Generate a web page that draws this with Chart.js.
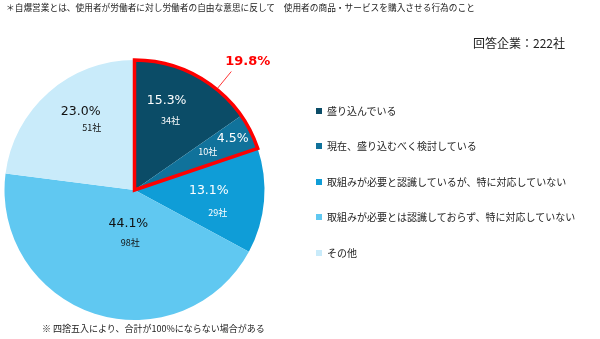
<!DOCTYPE html>
<html lang="ja">
<head>
<meta charset="utf-8">
<title>自爆営業</title>
<script src="https://cdn.jsdelivr.net/npm/chart.js@4"></script>
<style>
  html, body { margin: 0; padding: 0; background: #fff; }
  body { width: 600px; height: 339px; position: relative; overflow: hidden;
         font-family: "Noto Sans CJK JP", "Noto Sans", sans-serif; color: #222; }
  #wrap { position: absolute; left: 0; top: 0; width: 600px; height: 339px; }
  .note-top { position: absolute; left: 6px; top: 1px; font-size: 8.7px; white-space: nowrap; }
  .total { position: absolute; left: 473px; top: 34px; font-size: 12px; white-space: nowrap; }
  .note-bottom { position: absolute; left: 42px; top: 322px; font-size: 9px; white-space: nowrap; }
  #legend { position: absolute; left: 316px; top: 0; }
  .item { position: absolute; left: 0; white-space: nowrap; font-size: 10px; line-height: 12px; }
  .item span.box { display: inline-block; width: 6px; height: 6px; margin-right: 5px; vertical-align: 1px; }
</style>
</head>
<body>
<div id="wrap"><canvas id="myChart" width="600" height="339"></canvas></div>
<div class="note-top">＊自爆営業とは、使用者が労働者に対し労働者の自由な意思に反して　使用者の商品・サービスを購入させる行為のこと</div>
<div class="total">回答企業：222社</div>
<div class="note-bottom">※ 四捨五入により、合計が100%にならない場合がある</div>
<div id="legend"></div>

<script>
// data
const categories = [
  '盛り込んでいる',
  '現在、盛り込むべく検討している',
  '取組みが必要と認識しているが、特に対応していない',
  '取組みが必要とは認識しておらず、特に対応していない',
  'その他'
];
const companies = [34, 10, 29, 98, 51];
const percentLabels = ['15.3%', '4.5%', '13.1%', '44.1%', '23.0%'];
const highlightLabel = '19.8%';
const highlightCount = 2; // first two slices are outlined

// styles
const colors = ['#0b4c67', '#10729b', '#0f9dd7', '#60c8f1', '#c9ebfa'];
const textColors = ['#fff', '#fff', '#fff', '#111', '#111'];
const labelRadius = [0.70, 0.76, 0.62, 0.33, 0.65];
// small nudges of the two label lines, [dx, dy]
const pctNudge = [[-10, 0], [10, 2], [-6, 3], [7, 2], [2, -6]];
const countNudge = [[-9, 0], [-18, -5], [0, 5], [6, 1], [10, -10]];
const legendTops = [105, 140, 176, 211, 247];

// legend
const legend = document.getElementById('legend');
for (let i = 0; i < categories.length; i++) {
  let div = document.createElement('div');
  div.className = 'item';
  div.style.top = legendTops[i] + 'px';
  div.innerHTML = '<span class="box" style="background:' + colors[i] + '"></span>' + categories[i];
  legend.appendChild(div);
}

// labels inside the slices
const sliceLabels = {
  id: 'sliceLabels',
  afterDatasetsDraw(chart) {
    const ctx = chart.ctx;
    const arcs = chart.getDatasetMeta(0).data;
    ctx.save();
    ctx.textAlign = 'center';
    ctx.textBaseline = 'middle';
    for (let i = 0; i < arcs.length; i++) {
      let a = arcs[i];
      let mid = (a.startAngle + a.endAngle) / 2;
      let r = a.outerRadius * labelRadius[i];
      let x = a.x + Math.cos(mid) * r;
      let y = a.y + Math.sin(mid) * r;
      ctx.fillStyle = textColors[i];
      ctx.font = '12.5px "DejaVu Sans", sans-serif';
      ctx.fillText(percentLabels[i], x + pctNudge[i][0], y - 9 + pctNudge[i][1]);
      ctx.font = '9px "Noto Sans CJK JP", sans-serif';
      ctx.fillText(companies[i] + '社', x + 3 + countNudge[i][0], y + 11 + countNudge[i][1]);
    }
    ctx.restore();
  }
};

// red outline round the first slices, with callout
const highlight = {
  id: 'highlight',
  afterDatasetsDraw(chart) {
    const ctx = chart.ctx;
    const arcs = chart.getDatasetMeta(0).data;
    const first = arcs[0];
    const last = arcs[highlightCount - 1];
    const cx = first.x, cy = first.y, r = first.outerRadius;
    ctx.save();
    ctx.strokeStyle = '#ff0000';
    ctx.lineWidth = 3.5;
    ctx.lineJoin = 'miter';
    ctx.beginPath();
    ctx.moveTo(cx, cy);
    ctx.arc(cx, cy, r, first.startAngle, last.endAngle);
    ctx.closePath();
    ctx.stroke();

    let ang = first.startAngle + (last.endAngle - first.startAngle) * 0.55;
    ctx.lineWidth = 0.8;
    ctx.beginPath();
    ctx.moveTo(cx + Math.cos(ang) * (r + 1), cy + Math.sin(ang) * (r + 1));
    ctx.lineTo(cx + Math.cos(ang) * (r + 23), cy + Math.sin(ang) * (r + 23));
    ctx.stroke();

    ctx.fillStyle = '#ff0000';
    ctx.font = 'bold 13px "DejaVu Sans", sans-serif';
    ctx.textAlign = 'center';
    ctx.textBaseline = 'middle';
    ctx.fillText(highlightLabel, cx + Math.cos(ang) * (r + 38) + 7, cy + Math.sin(ang) * (r + 38) + 2);
    ctx.restore();
  }
};

const ctx = document.getElementById('myChart');
new Chart(ctx, {
  type: 'pie',
  data: {
    labels: categories,
    datasets: [{
      data: companies,
      backgroundColor: colors,
      borderWidth: 0
    }]
  },
  options: {
    responsive: false,
    animation: false,
    layout: {
      padding: { left: 3, right: 334, top: 60, bottom: 19 }
    },
    plugins: {
      legend: { display: false },
      tooltip: { enabled: false }
    }
  },
  plugins: [sliceLabels, highlight]
});
</script>
</body>
</html>
